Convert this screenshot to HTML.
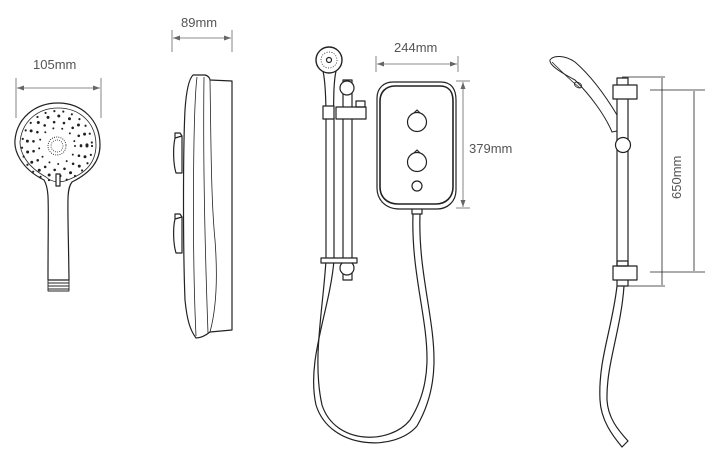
<!DOCTYPE html>
<html><head><meta charset="utf-8"><style>
html,body{margin:0;padding:0;background:#fff;}
svg{display:block;}
text{font-family:"Liberation Sans",sans-serif;font-size:13px;fill:#555;}
</style></head><body>
<svg width="714" height="453" viewBox="0 0 714 453" xmlns="http://www.w3.org/2000/svg">
<g fill="none" stroke="#222" stroke-width="1.2" stroke-linejoin="round">
<!-- ===== Handset front ===== -->
<line x1="16" y1="78" x2="16" y2="118" stroke="#666" stroke-width="0.8"/>
<line x1="101" y1="78" x2="101" y2="118" stroke="#666" stroke-width="0.8"/>
<line x1="17" y1="88" x2="100" y2="88" stroke="#666" stroke-width="0.8"/>
<path d="M17,88 l7,-2.5 v5 z M100,88 l-7,-2.5 v5 z" fill="#666" stroke="none"/>
<path d="M44,180 C20,168 14,150 15,140 C17,118 35,103 58,103 C82,103 100,120 100,145 C100,160 92,172 72,182 C66,190 68,200 69,280 L48,280 C48,200 50,190 44,180 Z"/>
<path d="M46,177 C26,166 20,152 20,142 C22,121 38,108 58,108 C80,108 96,123 96,145 C96,160 88,172 70,179 C62,183 52,183 46,177 Z" stroke-width="0.8"/>
<circle cx="57" cy="146" r="9" stroke-width="1.1" stroke-dasharray="0 2.2" stroke-linecap="round"/>
<circle cx="57" cy="146" r="6" stroke-width="1" stroke-dasharray="0 2.2" stroke-linecap="round"/>
<circle cx="57" cy="146" r="18" stroke-width="2" stroke-dasharray="0 9" stroke-linecap="round"/>
<circle cx="57" cy="146" r="24" stroke-width="2.6" stroke-dasharray="0 10" stroke-linecap="round"/>
<circle cx="57" cy="146" r="30" stroke-width="3" stroke-dasharray="0 11" stroke-linecap="round"/>
<circle cx="57" cy="146" r="35" stroke-width="2.2" stroke-dasharray="0 9" stroke-linecap="round"/>
<rect x="56" y="174" width="4" height="12" fill="#fff"/>
<path d="M48,280 h21 v11 h-21 z M48,283 h21 M48,286 h21 M48,289 h21" stroke-width="0.9"/>
<!-- ===== Side view ===== -->
<line x1="172" y1="30" x2="172" y2="52" stroke="#666" stroke-width="0.8"/>
<line x1="232" y1="30" x2="232" y2="52" stroke="#666" stroke-width="0.8"/>
<line x1="173" y1="38" x2="231" y2="38" stroke="#666" stroke-width="0.8"/>
<path d="M173,38 l7,-2.5 v5 z M231,38 l-7,-2.5 v5 z" fill="#666" stroke="none"/>
<path d="M193,75 L205,75 C209,76 210,79 210,80 L232,81 L232,330 L210,332 C205,336 200,338 196,338 C190,330 187,320 185,300 C183,250 183,150 185,110 C186,95 188,80 193,75 Z"/>
<path d="M197,77 C193,110 192,250 196,336" stroke-width="0.8"/>
<path d="M204,77 C203,150 205,250 208,333" stroke-width="0.8"/>
<path d="M210,80 C211,140 211,200 215,240 C218,280 216,310 210,332" stroke-width="0.8"/>
<path d="M175,138 L182,136 L182,173 L176,173 C173,163 173,147 175,138 Z M175,138 L175,133 L180,133 L182,136"/>
<path d="M175,219 L182,217 L182,253 L176,253 C173,243 173,227 175,219 Z M175,219 L175,214 L180,214 L182,217"/>
<!-- ===== Middle: unit + rail ===== -->
<line x1="376" y1="56" x2="376" y2="72" stroke="#666" stroke-width="0.8"/>
<line x1="458" y1="56" x2="458" y2="72" stroke="#666" stroke-width="0.8"/>
<line x1="377" y1="64" x2="457" y2="64" stroke="#666" stroke-width="0.8"/>
<path d="M377,64 l7,-2.5 v5 z M457,64 l-7,-2.5 v5 z" fill="#666" stroke="none"/>
<line x1="456" y1="81" x2="470" y2="81" stroke="#666" stroke-width="0.8"/>
<line x1="456" y1="208" x2="470" y2="208" stroke="#666" stroke-width="0.8"/>
<line x1="463" y1="82" x2="463" y2="207" stroke="#666" stroke-width="0.8"/>
<path d="M463,82 l-2.5,7 h5 z M463,207 l-2.5,-7 h5 z" fill="#666" stroke="none"/>
<path d="M393,82 L441,82 C452,82 456,90 456,100 L456,190 C456,202 447,209 437,209 L399,209 C386,209 377,200 377,188 L377,98 C377,88 384,82 393,82 Z"/>
<path d="M395,86 L440,86 C449,86 453,92 453,101 L453,187 C453,197 446,204 436,204 L398,204 C387,204 380,197 380,187 L380,101 C380,92 386,86 395,86 Z" stroke-width="1.6"/>
<circle cx="417" cy="122" r="9.5"/><path d="M414,113 l3,-3 l3,3"/>
<circle cx="417" cy="162" r="9.5"/><path d="M414,153 l3,-3 l3,3"/>
<circle cx="417" cy="186" r="5"/>
<path d="M412,209 L412,214 L422,214 L422,209"/>
<!-- hose -->
<path d="M413,214 C410,300 448,360 410,420 C390,445 335,445 322,405 C312,360 323,310 326,260 L326,120"/>
<path d="M420,214 C417,300 455,360 417,426 C395,452 330,450 316,405 C306,360 330,310 334,260 L334,120"/>
<!-- rail -->
<rect x="343" y="80" width="9" height="200" fill="#fff"/>
<circle cx="347" cy="88" r="7" fill="#fff"/>
<circle cx="347" cy="268" r="7" fill="#fff"/>
<rect x="321" y="258" width="36" height="5" fill="#fff"/>
<!-- handset on rail -->
<circle cx="329" cy="60" r="13" stroke-width="1.4"/>
<circle cx="329" cy="60" r="8" stroke-width="0.8" stroke-dasharray="1 1.5"/>
<circle cx="329" cy="60" r="2.5"/>
<path d="M323,71 C325,80 326,100 326,120 M334,120 C333,100 334,80 336,71"/>
<rect x="323" y="106" width="11" height="13" fill="#fff"/>
<rect x="336" y="107" width="30" height="12" fill="#fff"/>
<rect x="356" y="101" width="9" height="6"/>
<!-- ===== Right: rail side ===== -->
<line x1="622" y1="77" x2="665" y2="77" stroke-width="0.8"/>
<line x1="622" y1="286" x2="665" y2="286" stroke-width="0.8"/>
<line x1="650" y1="90" x2="705" y2="90" stroke-width="0.8"/>
<line x1="650" y1="272" x2="705" y2="272" stroke-width="0.8"/>
<line x1="662" y1="78" x2="662" y2="285" stroke-width="0.8"/>
<line x1="694" y1="91" x2="694" y2="271" stroke-width="0.8"/>
<rect x="617" y="78" width="11" height="208"/>
<rect x="613" y="85" width="24" height="14" fill="#fff"/>
<rect x="613" y="266" width="24" height="14" fill="#fff"/>
<rect x="617" y="261" width="11" height="5"/>
<circle cx="623" cy="145" r="7.5" fill="#fff"/>
<path d="M617,115 C605,95 590,75 575,62 C565,55 553,55 550,60 C549,65 560,72 575,80 C590,95 605,115 612,132 L617,131" stroke-width="1"/>
<path d="M552,62 C560,70 570,80 580,88" stroke-width="0.8"/>
<ellipse cx="578" cy="85" rx="4" ry="2.5" transform="rotate(30 578 85)" stroke-width="0.8"/>
<path d="M617,286 C612,330 598,360 600,400 C601,420 612,435 622,447 L628,441 C618,430 608,418 607,400 C606,365 621,330 624,286"/>
</g>
<text x="33" y="69">105mm</text>
<text x="181" y="27">89mm</text>
<text x="394" y="52">244mm</text>
<text x="469" y="153">379mm</text>
<text x="0" y="0" transform="translate(681,199) rotate(-90)">650mm</text>
</svg>
</body></html>
